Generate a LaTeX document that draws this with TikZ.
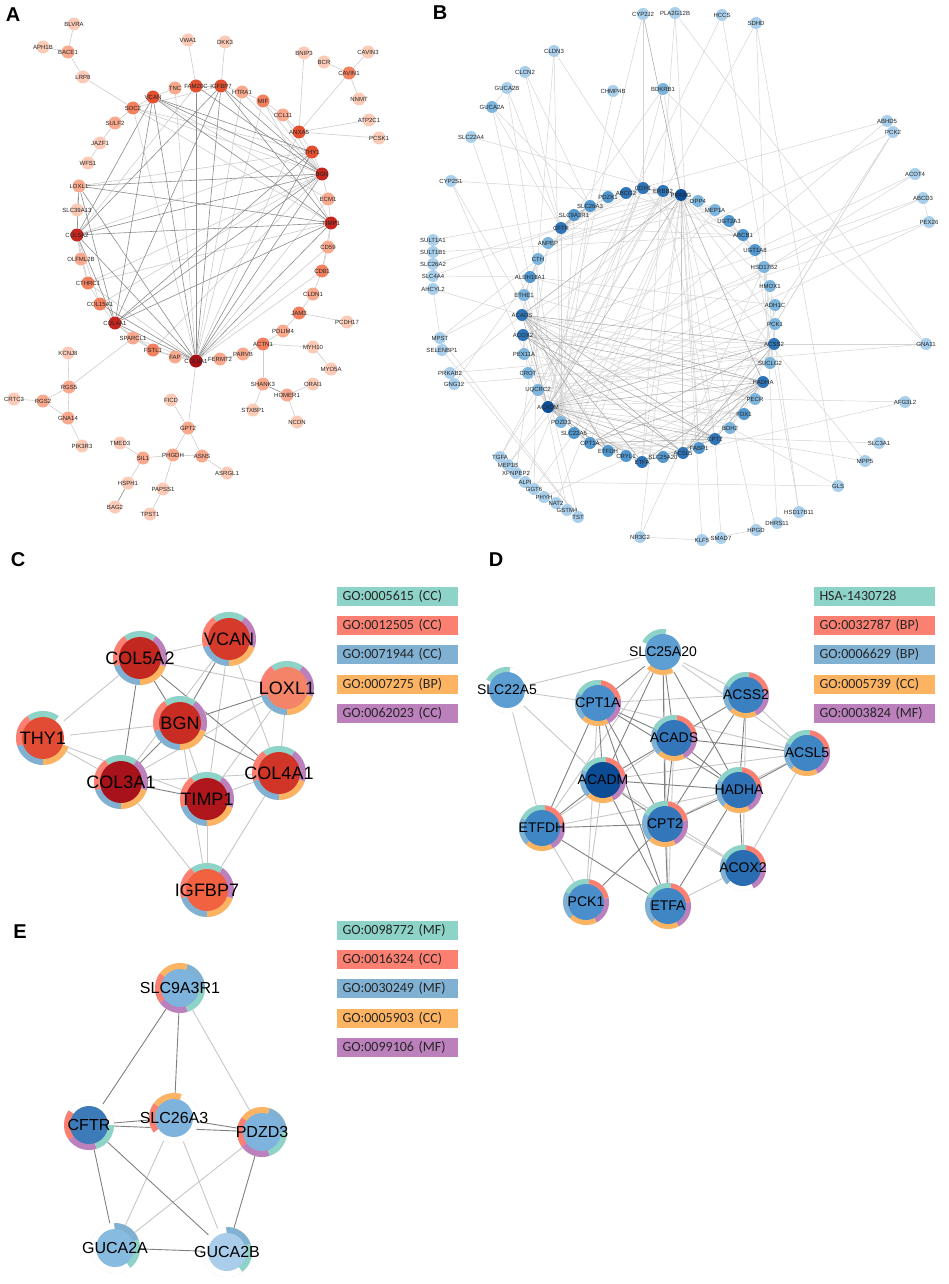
\documentclass[tikz,border=0pt]{standalone}
\usepackage{fontspec}
\setmainfont{Liberation Sans}
\newfontfamily\legfont{Carlito}
\usetikzlibrary{calc,positioning}
\pgfdeclarelayer{edges}
\pgfdeclarelayer{rings}
\pgfsetlayers{edges,rings,main}

\definecolor{a1}{HTML}{FCCBB8}
\definecolor{a2}{HTML}{F9A98E}
\definecolor{a3}{HTML}{F3805F}
\definecolor{a4}{HTML}{E2502F}
\definecolor{a5}{HTML}{C4261F}
\definecolor{a6}{HTML}{A81116}
\definecolor{b1}{HTML}{A9CFEA}
\definecolor{b2}{HTML}{7DB5DD}
\definecolor{b3}{HTML}{5298CE}
\definecolor{b4}{HTML}{2F74B7}
\definecolor{b5}{HTML}{0D4E95}
\definecolor{gt}{HTML}{8DD3C7}
\definecolor{gr}{HTML}{FB8072}
\definecolor{gb}{HTML}{80B1D3}
\definecolor{go}{HTML}{FDB462}
\definecolor{gp}{HTML}{BC80BD}

\tikzset{
  panel/.style={font=\fontsize{20}{22}\selectfont\bfseries},
  anode/.style={circle,inner sep=0pt,minimum size=13pt},
  bnode/.style={circle,inner sep=0pt,minimum size=12pt},
  tiny/.style={font=\fontsize{6}{7}\selectfont,text=black!85},
  aedge/.style={draw=black!20,line width=0.6pt},
  aedged/.style={draw=black!45,line width=0.6pt},
  bedge/.style={draw=black!17,line width=0.5pt},
  bedged/.style={draw=black!35,line width=0.5pt},
  cnode/.style={circle,inner sep=0pt,minimum size=42pt},
  dnode/.style={circle,inner sep=0pt,minimum size=36pt},
  enode/.style={circle,inner sep=0pt,minimum size=38pt},
  clabel/.style={font=\fontsize{18}{20}\selectfont},
  dlabel/.style={font=\fontsize{14}{16}\selectfont},
  elabel/.style={font=\fontsize{16}{18}\selectfont},
  cedge/.style={draw=black!22,line width=0.9pt},
  cedged/.style={draw=black!50,line width=0.9pt},
  legbox/.style={rectangle,minimum height=19pt,text width=109pt,inner xsep=6pt,
    inner ysep=0pt,align=left,text=black!85,font=\legfont\fontsize{14}{16}\selectfont}
}

% ring of five term slices round a node
\newcommand\donut[5]{%
  \fill[white,draw=black!10,line width=0.4pt] (#1) circle[radius=#3pt];
  \foreach \segcol [count=\k from 0] in {#5}{%
    \pgfmathsetmacro\segA{#2+72*\k}%
    \pgfmathsetmacro\segB{#2+72*\k+72}%
    \fill[\segcol] ($(#1)+(\segA:#3pt)$) arc[start angle=\segA,end angle=\segB,radius=#3pt]
      -- ($(#1)+(\segB:#4pt)$) arc[start angle=\segB,end angle=\segA,radius=#4pt] -- cycle;
  }}

\begin{document}
\begin{tikzpicture}[x=1pt,y=-1pt]
\useasboundingbox (0,0) rectangle (948,1284);

\node[panel] (lblA) at (13,15) {A};
\node[panel] (lblB) at (440,13) {B};
\node[panel] (lblC) at (18,560) {C};
\node[panel] (lblD) at (496,560) {D};
\node[panel] (lblE) at (20,932) {E};

% ---- A
\foreach \nm/\x/\y/\lv in {BLVRA/74/24/1, APH1B/43/47/1, BACE1/68/52/2, LRP8/83/77/1,
  SDC2/133/108/3, VCAN/153/97/4, TNC/175/88/2, FAM20C/196/86/4, VWA1/188/40/1,
  DKK3/225/42/1, IGFBP7/221/86/4, HTRA1/242/92/2, MIF/263/101/3, CCL11/283/115/2,
  BNIP3/304/53/1, BCR/324/62/1, CAVIN3/368/52/1, CAVIN1/349/73/3, NNMT/359/99/1,
  ATP2C1/369/120/1, PCSK1/379/138/1, ANXA5/299/132/4, THY1/312/152/4, BGN/322/174/5,
  ECM1/328/199/2, TIMP1/331/223/5, CD59/328/247/2, CD81/322/271/3, CLDN1/313/294/2,
  JAM3/299/313/3, PCDH17/347/322/1, PDLIM4/283/331/2, ACTN1/263/344/3, PARVB/243/354/2,
  FERMT2/220/359/2, MYH10/313/347/1, MYO5A/331/369/1, SHANK3/263/384/2, ORAI1/313/384/1,
  HOMER1/287/395/2, STXBP1/253/410/1, NCDN/297/422/1, COL3A1/196/361/6, FAP/175/357/2,
  FSTL1/153/350/3, SPARCL1/133/338/2, COL4A1/115/323/5, COL15A1/100/304/3,
  CTHRC1/88/283/3, OLFML2B/81/259/2, COL5A2/77/235/5, SLC39A13/77/210/1, LOXL1/79/186/2,
  WFS1/88/163/1, JAZF1/100/143/1, SULF2/115/123/2, KCNJ8/68/353/1, RGS5/69/387/2,
  CRTC3/14/399/1, RGS2/43/401/2, GNA14/68/418/2, PIK3R3/82/446/1, FICD/171/400/1,
  GPT2/188/428/2, TMED3/120/443/1, SIL1/143/458/2, PHGDH/173/455/2, ASNS/202/456/2,
  HSPH1/128/483/1, PAPSS1/163/489/1, BAG2/115/507/1, TPST1/150/514/1, ASRGL1/227/473/1}
  \node[anode,fill=a\lv,label={[tiny]center:\nm}] (a-\nm) at (\x,\y) {};

\begin{pgfonlayer}{edges}
\foreach \na/\nb in {BLVRA/BACE1, APH1B/BACE1, BACE1/LRP8, LRP8/SDC2, VWA1/FAM20C,
  DKK3/IGFBP7, BNIP3/ANXA5, BCR/CAVIN1, CAVIN3/CAVIN1, CAVIN1/NNMT, CAVIN1/ANXA5,
  ATP2C1/ANXA5, PCSK1/ANXA5, SDC2/SULF2, SULF2/JAZF1, JAZF1/WFS1, VCAN/TNC,
  FAM20C/IGFBP7, IGFBP7/HTRA1, HTRA1/MIF, MIF/CCL11, CCL11/ANXA5, ANXA5/THY1,
  LOXL1/SLC39A13, SLC39A13/COL5A2, COL5A2/OLFML2B, OLFML2B/CTHRC1, CTHRC1/COL15A1,
  COL15A1/COL4A1, COL4A1/SPARCL1, SPARCL1/FSTL1, FSTL1/FAP, FAP/COL3A1, COL3A1/FERMT2,
  FERMT2/PARVB, PARVB/ACTN1, ACTN1/PDLIM4, PDLIM4/JAM3, JAM3/CLDN1, CLDN1/CD81,
  JAM3/PCDH17, ACTN1/MYH10, MYH10/MYO5A, ACTN1/SHANK3, SHANK3/STXBP1, HOMER1/ORAI1,
  HOMER1/NCDN, SPARCL1/RGS5, KCNJ8/RGS5, RGS5/RGS2, RGS5/GNA14, RGS2/GNA14,
  CRTC3/RGS2, GNA14/PIK3R3, COL3A1/GPT2, FICD/GPT2, GPT2/PHGDH, GPT2/ASNS,
  PHGDH/ASNS, SIL1/PHGDH, TMED3/SIL1, SIL1/HSPH1, PHGDH/PAPSS1, PAPSS1/TPST1,
  ASNS/ASRGL1, THY1/BGN, BGN/ECM1, ECM1/TIMP1, TIMP1/CD59, CD59/CD81,
  COL3A1/SDC2, COL3A1/SPARCL1, COL3A1/ANXA5, COL3A1/CD81, COL3A1/CD59, COL3A1/ECM1,
  COL3A1/MIF, COL3A1/HTRA1, COL3A1/TNC, COL3A1/FSTL1, COL3A1/CTHRC1, BGN/SDC2,
  BGN/COL15A1, BGN/CTHRC1, BGN/FSTL1, BGN/MIF, BGN/HTRA1, BGN/CCL11, TIMP1/CD81,
  TIMP1/MIF, TIMP1/SDC2, TIMP1/CTHRC1, COL5A2/COL15A1, COL5A2/CTHRC1, COL5A2/FAM20C,
  COL4A1/FSTL1, VCAN/SDC2, VCAN/ECM1, THY1/SDC2, IGFBP7/SDC2, COL5A2/THY1, LOXL1/THY1}
  \draw[aedge] (a-\na) -- (a-\nb);
\foreach \na/\nb in {COL3A1/COL5A2, COL3A1/COL4A1, COL3A1/BGN, COL3A1/TIMP1,
  COL3A1/VCAN, COL3A1/LOXL1, COL3A1/THY1, COL3A1/IGFBP7, COL3A1/FAM20C,
  COL3A1/COL15A1, BGN/COL5A2, BGN/COL4A1, BGN/VCAN, BGN/LOXL1, BGN/FAM20C,
  BGN/IGFBP7, TIMP1/COL5A2, TIMP1/COL4A1, TIMP1/LOXL1, TIMP1/VCAN, TIMP1/IGFBP7,
  COL5A2/COL4A1, COL5A2/VCAN, COL5A2/LOXL1, COL5A2/IGFBP7, COL4A1/VCAN,
  COL4A1/LOXL1, COL4A1/THY1, COL4A1/IGFBP7, VCAN/THY1, SHANK3/HOMER1, HSPH1/BAG2}
  \draw[aedged] (a-\na) -- (a-\nb);
\end{pgfonlayer}

% ---- B
\foreach \nm/\x/\y/\lv in {CYP2J2/643/14/1, PLA2G12B/675/13/1, HCCS/722/15/1, SDHD/756/23/1,
  CLDN3/554/51/1, CLCN2/525/72/1, GUCA2B/507/88/1, GUCA2A/492/107/2, CHMP4B/613/91/1,
  BDKRB1/663/89/2, SLC22A4/471/137/1, CYP2S1/451/181/1, ABHD5/887/121/1, PCK2/893/132/1,
  ACOT4/915/174/1, ABCD3/923/198/1, PEX26/929/222/1, PDZK1/608/197/3, ABCG2/626/193/4,
  CDH1/643/188/4, ERBB2/663/191/4, PPARG/681/195/5, DPP4/698/201/2, MEP1A/715/210/2,
  UGT2A3/729/221/3, ABCB1/743/235/3, UGT1A8/755/250/3, HSD17B2/764/267/2, HMOX1/770/286/2,
  ADH1C/775/305/2, PCK1/775/324/2, ACSS2/774/344/4, SUCLG2/770/363/2, HADHA/763/382/4,
  PECR/755/399/2, FDX1/744/414/3, BDH2/730/428/2, CPT2/715/439/4, FABP1/699/448/3,
  ACSL5/683/453/4, SLC25A20/663/457/3, ETFA/642/462/4, CRYL1/626/456/3, ETFDH/608/451/3,
  CPT1A/590/443/3, SLC22A5/574/433/3, PDZD3/561/422/2, ACADM/548/407/5, UQCRC2/538/390/2,
  CROT/528/373/2, PEX11A/524/354/2, ACOX2/523/335/4, ACADS/522/315/4, ETHE1/524/295/2,
  ALDH18A1/530/277/3, CTH/538/259/2, ANPEP/548/243/2, CFTR/561/228/4, SLC9A3R1/574/215/3,
  SLC26A3/590/206/3, SULT1A1/433/240/1, SULT1B1/433/252/1, SLC26A2/433/264/1,
  SLC4A4/433/276/1, AHCYL2/433/289/1, MPST/440/338/1, SELENBP1/442/350/1, PRKAB2/450/373/1,
  GNG12/454/384/1, TGFA/500/457/1, MEP1B/508/465/1, XPNPEP2/516/473/1, ALPI/525/482/1,
  GGT6/534/489/1, PHYH/544/497/1, NAT2/556/503/1, GSTM4/567/510/1, TST/578/517/1,
  NR3C2/640/537/1, KLF5/702/540/1, SMAD7/721/538/1, HPGD/756/530/1, DHRS11/777/523/1,
  HSD17B11/799/512/1, GLS/838/486/1, MPP5/865/461/1, SLC3A1/879/443/1, AFG3L2/905/402/1,
  GNA11/926/344/1}
  \node[bnode,fill=b\lv,label={[tiny]center:\nm}] (b-\nm) at (\x,\y) {};

\begin{pgfonlayer}{edges}
\foreach \na/\nb in {CYP2J2/CDH1, CYP2J2/ACADM, PLA2G12B/ETFA, PLA2G12B/GNA11,
  PLA2G12B/FABP1, HCCS/UQCRC2, HCCS/HSD17B2, SDHD/ACADM, SDHD/SUCLG2, CLDN3/CDH1,
  CLDN3/CTH, CLDN3/PDZD3, CLCN2/CFTR, CLCN2/SLC26A3, GUCA2B/CFTR, GUCA2B/PDZD3,
  GUCA2B/GUCA2A, GUCA2A/CFTR, GUCA2A/SLC26A3, GUCA2A/PDZD3, CHMP4B/ACADM,
  BDKRB1/SLC22A5, BDKRB1/GNG12, BDKRB1/GNA11, BDKRB1/PPARG, SLC22A4/SLC22A5,
  SLC22A4/PPARG, CYP2S1/PPARG, CYP2S1/ETFDH, CYP2S1/ACADM, SULT1A1/PPARG,
  SULT1B1/ABCB1, SLC26A2/CFTR, SLC4A4/CFTR, SLC4A4/ALDH18A1, AHCYL2/MPST,
  AHCYL2/ACADS, MPST/TST, MPST/ETHE1, MPST/CTH, SELENBP1/TST, PRKAB2/GNG12,
  PRKAB2/ACSS2, PRKAB2/ACADS, GNG12/GNA11, TGFA/ERBB2, TGFA/CDH1, MEP1B/MEP1A,
  MEP1B/ACADM, XPNPEP2/ANPEP, ALPI/CDH1, GGT6/CTH, GGT6/SLC22A5, PHYH/PECR,
  NAT2/PPARG, GSTM4/ETHE1, TST/ETHE1, NR3C2/KLF5, NR3C2/PPARG, NR3C2/HSD17B2,
  KLF5/PPARG, KLF5/HPGD, SMAD7/CPT2, HPGD/PPARG, DHRS11/HSD17B2, HSD17B11/HSD17B2,
  HSD17B11/UGT1A8, GLS/ALPI, GLS/ACADS, GLS/SDHD, GNA11/ACSS2, AFG3L2/PECR,
  AFG3L2/ACSL5, SLC3A1/SLC22A5, MPP5/CDH1, MPP5/ACADM, PCK2/PCK1, PCK2/FABP1,
  PCK2/ACSL5, PCK2/ACADS, ABHD5/PDZK1, ABHD5/ACADM, ACOT4/ACADM, ACOT4/UGT1A8,
  ABCD3/PEX26, ABCD3/ACOX2, ABCD3/CROT, PEX26/ACADM, PEX26/PEX11A,
  ACADM/ACOX2, ACADM/PECR, ACADM/SUCLG2, ACADM/FABP1, ACADM/SLC25A20, ACADM/PCK1,
  ACADM/ADH1C, ACADM/HMOX1, ACADM/ERBB2, ACADM/CDH1, ACADM/BDH2, ACADM/FDX1,
  ACADM/UQCRC2, ACADM/CROT, PPARG/CDH1, PPARG/ERBB2, PPARG/ABCG2, PPARG/CPT1A,
  PPARG/FABP1, PPARG/PCK1, PPARG/HMOX1, PPARG/ACOX2, PPARG/ABCB1, PPARG/UGT1A8,
  PPARG/CFTR, PPARG/ANPEP, PPARG/SLC22A5, PPARG/CTH, PPARG/CPT2, PPARG/ETFA,
  CDH1/ERBB2, CDH1/ABCG2, CDH1/CFTR, CDH1/ANPEP, CDH1/PDZK1, CDH1/DPP4, CDH1/MEP1A,
  ERBB2/CPT2, ACADS/SUCLG2, ACADS/CPT1A, ACADS/PECR, ACOX2/PECR, ACOX2/CROT,
  ACOX2/SUCLG2, ACOX2/ACSS2, HADHA/ETFDH, CPT2/SLC25A20, CPT2/ETFDH, CPT2/ACSS2,
  ACSS2/SUCLG2, ACSS2/ALDH18A1, ACSS2/UQCRC2, CPT1A/SLC25A20, CPT1A/ACSL5,
  CPT1A/SLC22A5, CFTR/PDZK1, CFTR/PDZD3, CFTR/ABCB1, CFTR/ABCG2, SLC9A3R1/PDZK1,
  SLC9A3R1/PDZD3, SLC26A3/PDZD3, ABCB1/ABCG2, ABCB1/UGT1A8, UGT1A8/UGT2A3,
  UGT2A3/HSD17B2, DPP4/ANPEP, DPP4/MEP1A, MEP1A/ANPEP, ETHE1/SUCLG2, ETHE1/CTH,
  CTH/ALDH18A1, ALDH18A1/ACADS, UQCRC2/SUCLG2, UQCRC2/FDX1, UQCRC2/ETFA, CROT/CPT2,
  CROT/HADHA, PEX11A/ACOX2, PEX11A/PECR, PECR/HADHA, FDX1/ETFDH, BDH2/HADHA,
  BDH2/ACSS2, HMOX1/PCK1, ADH1C/ALDH18A1, PCK1/ACSS2, PCK1/SUCLG2, FABP1/ACSL5,
  FABP1/CPT1A, SLC22A5/SLC25A20, ETFDH/ETFA}
  \draw[bedge] (b-\na) -- (b-\nb);
\foreach \na/\nb in {ACADM/ACADS, ACADM/HADHA, ACADM/CPT2, ACADM/CPT1A, ACADM/ETFA,
  ACADM/ETFDH, ACADM/ACSL5, ACADM/ACSS2, ACADM/PPARG, PPARG/ACSL5, PPARG/HADHA,
  PPARG/ACADS, ACADS/HADHA, ACADS/CPT2, ACADS/ACSS2, ACADS/ACSL5, ACADS/ETFA,
  ACADS/ETFDH, ACOX2/HADHA, ACOX2/CPT2, ACOX2/ACSL5, HADHA/CPT1A, HADHA/CPT2,
  HADHA/ETFA, HADHA/ACSL5, CPT2/CPT1A, CPT2/ETFA, ACSS2/ACSL5, ACSS2/CPT1A,
  CFTR/SLC26A3, CFTR/SLC9A3R1, SLC26A3/SLC9A3R1, CYP2J2/PPARG}
  \draw[bedged] (b-\na) -- (b-\nb);
\end{pgfonlayer}

% ---- C
\foreach \nm/\x/\y/\col in {COL5A2/140/658/C2281F, VCAN/229/639/D63A2B,
  LOXL1/287/688/F38468, BGN/180/723/C92C22, THY1/43/738/E24C34, COL3A1/121/782/A8121A,
  TIMP1/207/799/B0171C, COL4A1/279/773/D13528, IGFBP7/207/890/F26240}
  {\definecolor{nodefill}{HTML}{\col}
  \node[cnode,fill=nodefill,label={[clabel]center:\nm}] (c-\nm) at (\x,\y) {};}
\begin{pgfonlayer}{rings}
\foreach \nm in {COL5A2,VCAN,LOXL1,BGN,COL3A1,TIMP1,COL4A1,IGFBP7}
  {\donut{c-\nm}{54}{27}{20}{gt,gr,gb,go,gp}}
\donut{c-THY1}{54}{27}{20}{gt,gr,gb,go,white}
\end{pgfonlayer}
\begin{pgfonlayer}{edges}
\foreach \na/\nb in {COL5A2/VCAN, COL5A2/LOXL1, COL5A2/THY1, VCAN/COL3A1, VCAN/TIMP1,
  VCAN/COL4A1, LOXL1/COL3A1, LOXL1/COL4A1, LOXL1/TIMP1, THY1/BGN, THY1/COL3A1,
  THY1/TIMP1, BGN/TIMP1, COL3A1/COL4A1, COL3A1/IGFBP7, TIMP1/COL4A1, TIMP1/IGFBP7,
  COL4A1/IGFBP7, BGN/IGFBP7}
  \draw[cedge] (c-\na) -- (c-\nb);
\foreach \na/\nb in {COL5A2/COL3A1, COL5A2/BGN, COL5A2/COL4A1, VCAN/BGN, BGN/COL4A1,
  COL3A1/TIMP1, COL3A1/BGN, BGN/LOXL1}
  \draw[cedged] (c-\na) -- (c-\nb);
\end{pgfonlayer}
\node[legbox,fill=gt] (c-key1) at (397,596) {GO:0005615 (CC)};
\node[legbox,fill=gr,below=10pt of c-key1] (c-key2) {GO:0012505 (CC)};
\node[legbox,fill=gb,below=10pt of c-key2] (c-key3) {GO:0071944 (CC)};
\node[legbox,fill=go,below=10pt of c-key3] (c-key4) {GO:0007275 (BP)};
\node[legbox,fill=gp,below=10pt of c-key4] (c-key5) {GO:0062023 (CC)};

% ---- D
\foreach \nm/\x/\y/\col in {SLC25A20/663/652/5D9ED3, SLC22A5/507/690/5D9ED3,
  CPT1A/598/703/4A8FCB, ACSS2/746/695/3B80C0, ACADS/674/738/3377BA,
  ACSL5/807/753/3F86C5, ACADM/603/780/0C4C94, HADHA/739/790/2F72B5,
  ETFDH/542/828/3F86C5, CPT2/665/824/3377BA, ACOX2/743/868/2A6DB0,
  PCK1/586/902/4A8FCB, ETFA/668/906/3F86C5}
  {\definecolor{nodefill}{HTML}{\col}
  \node[dnode,fill=nodefill,label={[dlabel]center:\nm}] (d-\nm) at (\x,\y) {};}
\begin{pgfonlayer}{rings}
\foreach \nm in {CPT1A,ACSS2,ACADS,ACSL5,ACADM,HADHA,ETFDH,CPT2,PCK1,ETFA}
  {\donut{d-\nm}{10}{23}{16}{gr,gt,gb,go,gp}}
\donut{d-SLC25A20}{10}{23}{16}{white,gt,white,go,white}
\donut{d-SLC22A5}{10}{23}{16}{white,gt,white,white,white}
\donut{d-ACOX2}{10}{23}{16}{gr,gt,gb,white,gp}
\end{pgfonlayer}
\begin{pgfonlayer}{edges}
\foreach \na/\nb in {SLC22A5/SLC25A20, SLC22A5/CPT1A, SLC22A5/ACADM, SLC22A5/ETFDH,
  SLC25A20/ACSS2, SLC25A20/ACSL5, SLC25A20/ETFDH, CPT1A/ACSS2, CPT1A/ACSL5,
  CPT1A/PCK1, ACSS2/ACSL5, ACSS2/ACOX2, ACADS/ETFDH, ACSL5/ACADM, ACSL5/ACOX2,
  ACSL5/CPT2, ACADM/ACOX2, ACADM/PCK1, HADHA/ETFDH, ETFDH/PCK1, CPT2/ACOX2,
  ETFA/ACOX2, SLC25A20/ETFA, ACADS/ETFA}
  \draw[cedge] (d-\na) -- (d-\nb);
\foreach \na/\nb in {SLC25A20/CPT1A, SLC25A20/ACADS, SLC25A20/ACADM, SLC25A20/CPT2,
  SLC25A20/HADHA, CPT1A/ACADS, CPT1A/ACADM, CPT1A/HADHA, CPT1A/CPT2, CPT1A/ETFDH,
  CPT1A/ETFA, ACSS2/ACADS, ACSS2/HADHA, ACSS2/CPT2, ACADS/ACADM, ACADS/HADHA,
  ACADS/CPT2, ACADS/ACSL5, ACSL5/HADHA, ACADM/HADHA, ACADM/CPT2, ACADM/ETFDH,
  ACADM/ETFA, HADHA/CPT2, HADHA/ETFA, HADHA/ACOX2, ETFDH/CPT2, ETFDH/ETFA,
  CPT2/ETFA, CPT2/PCK1}
  \draw[cedged] (d-\na) -- (d-\nb);
\end{pgfonlayer}
\node[legbox,fill=gt] (d-key1) at (874,596) {HSA-1430728};
\node[legbox,fill=gr,below=10pt of d-key1] (d-key2) {GO:0032787 (BP)};
\node[legbox,fill=gb,below=10pt of d-key2] (d-key3) {GO:0006629 (BP)};
\node[legbox,fill=go,below=10pt of d-key3] (d-key4) {GO:0005739 (CC)};
\node[legbox,fill=gp,below=10pt of d-key4] (d-key5) {GO:0003824 (MF)};

% ---- E
\foreach \nm/\x/\y/\col in {SLC9A3R1/180/988/7DB3DC, SLC26A3/174/1118/7DB3DC,
  CFTR/89/1125/3D7AB8, PDZD3/262/1132/7DB3DC, GUCA2A/115/1248/88BBE0,
  GUCA2B/227/1252/A9CDEA}
  {\definecolor{nodefill}{HTML}{\col}
  \node[enode,fill=nodefill,label={[elabel]center:\nm}] (e-\nm) at (\x,\y) {};}
\begin{pgfonlayer}{rings}
\donut{e-SLC9A3R1}{0}{25}{18}{gb,go,gr,gp,gt}
\donut{e-PDZD3}{0}{25}{18}{gb,go,gr,gp,gt}
\donut{e-SLC26A3}{0}{25}{18}{white,go,gr,white,white}
\donut{e-CFTR}{0}{25}{18}{white,white,gr,gp,gt}
\donut{e-GUCA2A}{20}{25}{18}{gb,white,white,white,gt}
\donut{e-GUCA2B}{20}{25}{18}{gb,white,white,white,gt}
\end{pgfonlayer}
\begin{pgfonlayer}{edges}
\foreach \na/\nb in {SLC9A3R1/PDZD3, SLC26A3/GUCA2A, SLC26A3/GUCA2B, PDZD3/GUCA2A}
  \draw[cedge] (e-\na) -- (e-\nb);
\foreach \na/\nb in {SLC9A3R1/CFTR, SLC9A3R1/SLC26A3, CFTR/SLC26A3, SLC26A3/PDZD3,
  CFTR/PDZD3, CFTR/GUCA2A, CFTR/GUCA2B, GUCA2A/GUCA2B, PDZD3/GUCA2B}
  \draw[cedged] (e-\na) -- (e-\nb);
\end{pgfonlayer}
\node[legbox,fill=gt] (e-key1) at (397,930) {GO:0098772 (MF)};
\node[legbox,fill=gr,below=10pt of e-key1] (e-key2) {GO:0016324 (CC)};
\node[legbox,fill=gb,below=10pt of e-key2] (e-key3) {GO:0030249 (MF)};
\node[legbox,fill=go,below=10pt of e-key3] (e-key4) {GO:0005903 (CC)};
\node[legbox,fill=gp,below=10pt of e-key4] (e-key5) {GO:0099106 (MF)};
\end{tikzpicture}
\end{document}
